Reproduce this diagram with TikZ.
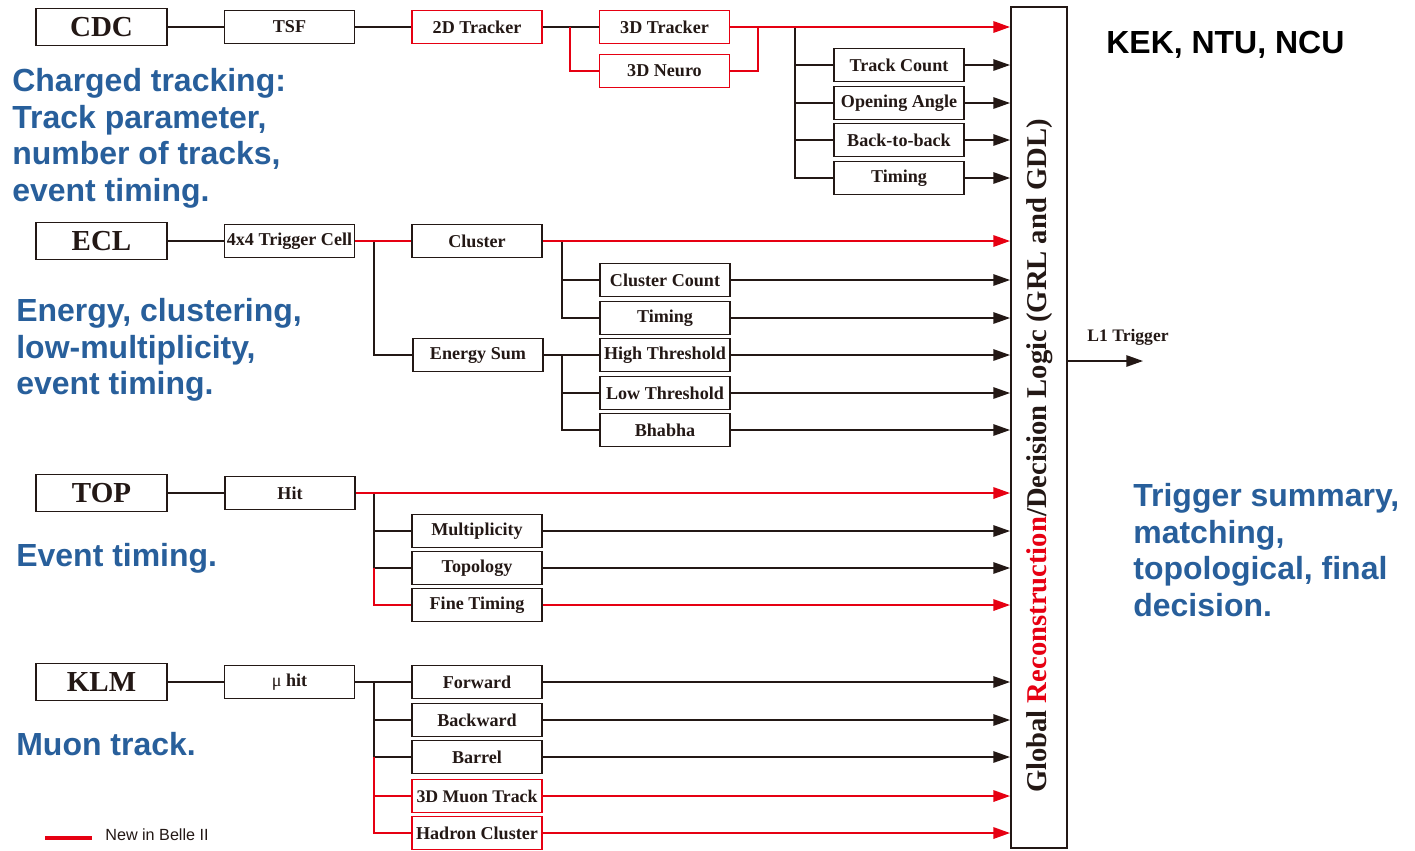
\documentclass[tikz,border=0pt]{standalone}
\usepackage{fontspec}
\setmainfont{Liberation Serif}
\newfontfamily\notefont{Liberation Sans}
\usepackage{xcolor}
\usetikzlibrary{arrows.meta}

\definecolor{ink}{RGB}{35,24,21}
\definecolor{newred}{RGB}{230,0,18}
\definecolor{noteblue}{RGB}{40,95,155}

\begin{document}
\begin{tikzpicture}[x=0.02cm, y=-0.02cm,
  box/.style={draw=ink, line width=1.1pt, text=ink, minimum width=2.6cm, minimum height=0.66cm, inner sep=0pt, font=\bfseries\fontsize{10.3}{12}\selectfont},
  newbox/.style={box, draw=newred},
  detector/.style={box, minimum width=2.62cm, minimum height=0.74cm, font=\bfseries\fontsize{16.5}{18}\selectfont},
  wire/.style={draw=ink, line width=0.9pt},
  newwire/.style={draw=newred, line width=1.1pt},
  tip/.style={-{Triangle[length=9.5pt,width=6.5pt]}},
  note/.style={anchor=north west, inner sep=0pt, align=left, text=noteblue, font=\notefont\bfseries\fontsize{18.2}{20.8}\selectfont}]

\useasboundingbox (0,0) rectangle (1415,850);

% global logic
\node[draw=ink, line width=1.1pt, minimum width=1.12cm, minimum height=16.82cm, inner sep=0pt] (gdl) at (1039,427.5) {};
\node[rotate=90, text=ink, inner sep=0pt, font=\bfseries\fontsize{16.3}{18}\selectfont] (gdltext) at (1040,456) {Global \textcolor{newred}{Reconstruction}/Decision Logic (GRL and GDL)};

% CDC
\node[detector] (cdc) at (101.5,27) {CDC};
\node[box] (tsf) at (289.5,27) {TSF};
\node[newbox] (trk2d) at (477,27) {2D Tracker};
\node[newbox] (trk3d) at (664.5,27) {3D Tracker};
\node[newbox] (neuro) at (664.5,71) {3D Neuro};
\node[box] (tcount) at (899,65) {Track Count};
\node[box] (oangle) at (899,103) {Opening Angle};
\node[box] (b2b) at (899,140) {Back-to-back};
\node[box] (ctiming) at (899,178) {Timing};

\coordinate (jn) at (570,27);
\coordinate (jm) at (758,27);
\coordinate (jc) at (795,27);
\path[draw] [wire] (cdc) -- (tsf);
\path[draw] [wire] (tsf) -- (trk2d);
\path[draw] [wire] (trk2d) -- (trk3d);
\path[draw] [newwire] (jn) |- (neuro.west);
\path[draw] [newwire] (neuro.east) -| (jm);
\path[draw] [wire] (jc) |- (ctiming.west);
\foreach \n in {tcount,oangle,b2b}
  \path[draw] [wire] (jc |- \n) -- (\n.west);
\foreach \n in {tcount,oangle,b2b,ctiming}
  \path[draw] [wire, tip] (\n.east) -- (\n.east -| gdl.west);
\path[draw] [newwire, tip] (trk3d.east) -- (trk3d.east -| gdl.west);

% ECL
\node[detector] (ecl) at (101.5,241) {ECL};
\node[box, font=\bfseries\fontsize{10.3}{12}\selectfont, inner xsep=0pt] (tc) at (289.5,241) {4x4 Trigger Cell};
\node[box] (cluster) at (477,241) {Cluster};
\node[box] (esum) at (478,355) {Energy Sum};
\node[box] (ccount) at (665,280) {Cluster Count};
\node[box] (etiming) at (665,318) {Timing};
\node[box] (hith) at (665,355) {High Threshold};
\node[box] (lowth) at (665,393) {Low Threshold};
\node[box] (bhabha) at (665,430) {Bhabha};

\coordinate (je) at (374,241);
\coordinate (jcl) at (562,241);
\coordinate (js) at (562,355);
\path[draw] [wire] (ecl) -- (tc);
\path[draw] [wire] (je) |- (esum.west);
\path[draw] [newwire] (tc) -- (cluster);
\path[draw] [wire] (jcl) |- (etiming.west);
\path[draw] [wire] (jcl |- ccount) -- (ccount.west);
\path[draw] [wire] (esum) -- (hith);
\path[draw] [wire] (js) |- (bhabha.west);
\path[draw] [wire] (js |- lowth) -- (lowth.west);
\foreach \n in {ccount,etiming,hith,lowth,bhabha}
  \path[draw] [wire, tip] (\n.east) -- (\n.east -| gdl.west);
\path[draw] [newwire, tip] (cluster.east) -- (cluster.east -| gdl.west);

% TOP
\node[detector] (top) at (101.5,493) {TOP};
\node[box] (hit) at (290,493) {Hit};
\node[box] (mult) at (477,531) {Multiplicity};
\node[box] (topo) at (477,568) {Topology};
\node[box] (ftiming) at (477,605) {Fine Timing};

\coordinate (jt) at (374,493);
\path[draw] [wire] (top) -- (hit);
\path[draw] [wire] (jt) |- (topo.west);
\path[draw] [wire] (jt |- mult) -- (mult.west);
\path[draw] [newwire] (jt |- topo) |- (ftiming.west);
\foreach \n in {mult,topo}
  \path[draw] [wire, tip] (\n.east) -- (\n.east -| gdl.west);
\path[draw] [newwire, tip] (ftiming.east) -- (ftiming.east -| gdl.west);
\path[draw] [newwire, tip] (hit.east) -- (hit.east -| gdl.west);

% KLM
\node[detector] (klm) at (101.5,682) {KLM};
\node[box] (muhit) at (289.5,682) {{\mdseries μ} hit};
\node[box] (fwd) at (477,682) {Forward};
\node[box] (bwd) at (477,720) {Backward};
\node[box] (barrel) at (477,757) {Barrel};
\node[newbox, font=\bfseries\fontsize{10.1}{12}\selectfont] (muon3d) at (477,796) {3D Muon Track};
\node[newbox] (hadron) at (477,833) {Hadron Cluster};

\coordinate (jk) at (374,682);
\path[draw] [wire] (klm) -- (muhit);
\path[draw] [wire] (muhit) -- (fwd);
\path[draw] [wire] (jk) |- (barrel.west);
\path[draw] [wire] (jk |- bwd) -- (bwd.west);
\path[draw] [newwire] (jk |- barrel) |- (hadron.west);
\path[draw] [newwire] (jk |- muon3d) -- (muon3d.west);
\foreach \n in {fwd,bwd,barrel}
  \path[draw] [wire, tip] (\n.east) -- (\n.east -| gdl.west);
\foreach \n in {muon3d,hadron}
  \path[draw] [newwire, tip] (\n.east) -- (\n.east -| gdl.west);

% output
\coordinate (l1) at (1143,361);
\path[draw] [wire, tip] (gdl.east |- l1) -- (l1);
\node[text=ink, font=\bfseries\fontsize{10}{12}\selectfont] (l1label) at (1128,337) {L1 Trigger};

% notes
\node[note] (cdcnote) at (12,68) {Charged tracking:\\Track parameter,\\number of tracks,\\event timing.};
\node[note] (eclnote) at (16,298) {Energy, clustering,\\low-multiplicity,\\event timing.};
\node[note] (topnote) at (16,543) {Event timing.};
\node[note] (klmnote) at (16,732) {Muon track.};
\node[note] (gdlnote) at (1133,483) {Trigger summary,\\matching,\\topological, final\\decision.};
\node[note, text=black] (inst) at (1106,31) {KEK, NTU, NCU};

% legend
\coordinate (lga) at (45,838);
\coordinate (lgb) at (92,838);
\path[draw] [newred, line width=2pt] (lga) -- (lgb);
\node[anchor=west, inner sep=0pt, text=ink, font=\notefont\fontsize{9.2}{11}\selectfont] (legend) at (105,835) {New in Belle II};

\end{tikzpicture}
\end{document}
